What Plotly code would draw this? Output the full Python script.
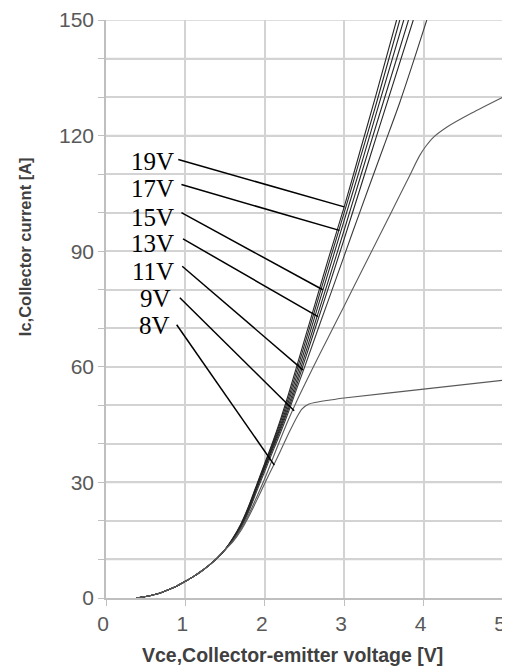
import plotly.graph_objects as go

# ---- data ----
base_x = [0.38, 0.50, 0.60, 0.70, 0.80, 0.90, 1.00, 1.10, 1.20, 1.30, 1.40, 1.50]
base_y = [0.0, 0.4, 0.85, 1.45, 2.25, 3.2, 4.35, 5.55, 6.95, 8.55, 10.35, 12.55]

x_19 = [1.6, 1.7, 1.8, 1.9, 2.0, 2.1, 2.2, 2.3, 2.4, 2.6, 2.8, 3.0, 3.2, 3.4, 3.66]
y_19 = [15.6, 19.3, 24.0, 29.5, 35.0, 40.5, 46.5, 53.0, 60.0, 74.0, 88.0, 101.5, 116.0, 130.5, 150.0]
x_17 = [1.6, 1.7, 1.8, 1.9, 2.0, 2.1, 2.2, 2.3, 2.4, 2.6, 2.8, 3.0, 3.2, 3.4, 3.70]
y_17 = [15.5, 19.1, 23.8, 29.3, 34.7, 40.1, 45.8, 52.0, 58.8, 72.6, 86.4, 100.0, 114.0, 128.0, 150.0]
x_15 = [1.6, 1.7, 1.8, 1.9, 2.0, 2.1, 2.2, 2.3, 2.4, 2.6, 2.8, 3.0, 3.2, 3.4, 3.75]
y_15 = [15.4, 18.9, 23.5, 29.0, 34.3, 39.6, 45.0, 51.0, 57.5, 71.0, 84.5, 98.0, 111.5, 125.5, 150.0]
x_13 = [1.6, 1.7, 1.8, 1.9, 2.0, 2.1, 2.2, 2.3, 2.4, 2.6, 2.8, 3.0, 3.2, 3.4, 3.81]
y_13 = [15.3, 18.7, 23.2, 28.7, 34.0, 39.2, 44.4, 50.0, 56.3, 69.3, 82.3, 95.5, 109.0, 122.5, 150.0]
x_12 = [1.6, 1.7, 1.8, 1.9, 2.0, 2.1, 2.2, 2.3, 2.4, 2.6, 2.8, 3.0, 3.2, 3.4, 3.87]
y_12 = [15.2, 18.5, 22.9, 28.4, 33.6, 38.7, 43.8, 49.2, 55.2, 67.8, 80.4, 93.2, 106.2, 119.4, 150.0]
x_11 = [1.6, 1.7, 1.8, 1.9, 2.0, 2.1, 2.2, 2.3, 2.4, 2.5, 2.7, 2.9, 3.1, 3.3, 3.5, 3.7, 3.9, 4.04]
y_11 = [15.1, 18.3, 22.6, 27.8, 32.9, 38.0, 43.0, 48.4, 54.2, 59.9, 71.5, 83.0, 94.6, 106.0, 117.3, 128.6, 141.0, 150.0]
x_9 = [1.6, 1.7, 1.8, 1.9, 2.0, 2.1, 2.2, 2.3, 2.4, 2.6, 2.8, 3.0, 3.2, 3.4, 3.6, 3.8, 3.95, 4.03, 4.12, 4.3, 4.6, 5.0]
y_9 = [14.8, 17.9, 21.8, 26.3, 31.0, 36.2, 41.4, 46.4, 51.0, 59.5, 67.7, 75.8, 84.0, 92.2, 100.4, 108.6, 114.8, 117.3, 119.5, 122.3, 125.8, 130.0]
x_8 = [1.6, 1.7, 1.8, 1.9, 2.0, 2.1, 2.2, 2.3, 2.4, 2.47, 2.55, 2.65, 2.8, 3.0, 4.0, 5.0]
y_8 = [14.6, 17.5, 21.2, 25.4, 29.8, 34.0, 38.3, 42.7, 46.8, 49.1, 50.3, 50.8, 51.3, 51.9, 54.2, 56.5]

labels = ["19V", "17V", "15V", "13V", "11V", "9V", "8V"]
label_x = [0.885, 0.885, 0.885, 0.885, 0.885, 0.85, 0.83]
label_y = [113.2, 106.2, 98.7, 91.9, 84.7, 77.7, 70.6]
ptr_x0 = [0.91, 0.95, 0.95, 0.97, 0.96, 0.93, 0.89]
ptr_y0 = [113.8, 107.3, 100.0, 93.2, 86.1, 77.9, 70.9]
ptr_x1 = [3.00, 2.94, 2.73, 2.67, 2.48, 2.37, 2.12]
ptr_y1 = [101.5, 95.4, 80.0, 73.0, 59.2, 48.6, 34.5]

y_tickvals = [0, 10, 20, 30, 40, 50, 60, 70, 80, 90, 100, 110, 120, 130, 140, 150]
y_ticktext = ["0", "", "", "30", "", "", "60", "", "", "90", "", "", "120", "", "", "150"]
x_tickvals = [0, 1, 2, 3, 4, 5]
x_ticktext = ["0", "1", "2", "3", "4", "5"]

fig = go.Figure()

grid = "#d3d3d3"
# horizontal grid lines at every y tick value (drawn below the data)
for v in y_tickvals[1:]:
    fig.add_shape(type="line", xref="paper", yref="y", x0=0, x1=1, y0=v, y1=v,
                  line=dict(color=grid, width=1.5), layer="below")

dark = "#262626"
gray = "#5a5a5a"
curves = [(x_19, y_19, dark), (x_17, y_17, dark), (x_15, y_15, dark), (x_13, y_13, dark),
          (x_12, y_12, dark), (x_11, y_11, "#3a3a3a"), (x_9, y_9, gray), (x_8, y_8, gray)]
for xs, ys, c in curves:
    fig.add_trace(go.Scatter(x=base_x + xs, y=base_y + ys, mode="lines",
                             line=dict(color=c, width=1.1, shape="spline", smoothing=0.8),
                             hoverinfo="skip"))

for i in range(len(labels)):
    fig.add_trace(go.Scatter(x=[ptr_x0[i], ptr_x1[i]], y=[ptr_y0[i], ptr_y1[i]], mode="lines",
                             line=dict(color="black", width=1.5), hoverinfo="skip"))
    fig.add_annotation(x=label_x[i], y=label_y[i], text=labels[i], showarrow=False,
                       xanchor="right", yanchor="middle", xref="x", yref="y",
                       font=dict(family="Liberation Serif", size=25, color="black"))

fig.add_annotation(x=-0.204, y=0.607, xref="paper", yref="paper", text="Ic,Collector current [A]",
                   textangle=-90, showarrow=False, xanchor="center", yanchor="middle",
                   font=dict(family="Liberation Sans", size=16.5, color="#404040", weight="bold"))
fig.add_annotation(x=0.47, y=-0.099, xref="paper", yref="paper", text="Vce,Collector-emitter voltage [V]",
                   showarrow=False, xanchor="center", yanchor="middle",
                   font=dict(family="Liberation Sans", size=19.5, color="#404040", weight="bold"))

fig.update_xaxes(range=[0, 5], tickmode="array", tickvals=x_tickvals, ticktext=x_ticktext,
                 showgrid=True, gridcolor=grid, gridwidth=1.5,
                 showline=True, linecolor="#bfbfbf", linewidth=1.5, ticks="outside", ticklen=6,
                 tickcolor="#bfbfbf", zeroline=False, automargin=False, ticklabelshift=-3,
                 tickfont=dict(family="Liberation Sans", size=21, color="#595959"))
fig.update_yaxes(range=[0, 150], tickmode="array", tickvals=y_tickvals, ticktext=y_ticktext,
                 showgrid=True, gridcolor=grid, gridwidth=1.5,
                 showline=True, linecolor="#bfbfbf", linewidth=1.5, ticks="outside", ticklen=6,
                 tickcolor="#bfbfbf", zeroline=False, automargin=False,
                 ticksuffix="\u2002\u00a0",
                 tickfont=dict(family="Liberation Sans", size=21, color="#595959"))

# the page body adds an 8px offset, so the figure is sized to fit the window
fig.update_layout(width=502, height=659, margin=dict(l=98, r=7, t=12, b=69, autoexpand=False),
                  plot_bgcolor="white", paper_bgcolor="white", showlegend=False)

fig.write_html("out.html")
